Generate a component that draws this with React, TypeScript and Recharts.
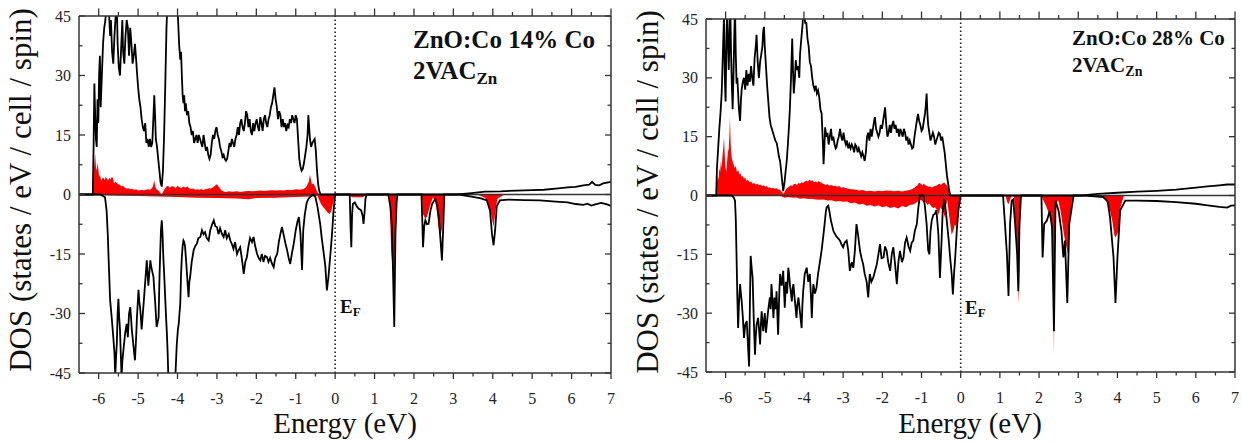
import React from "react";
import { ComposedChart, Line, Area, XAxis, YAxis, ReferenceLine } from "recharts";

type Pt = [number, number];

const FONT = "Liberation Serif, DejaVu Serif, serif";
const RED = "#ff0000";
const FRAME = "#333";

const energyTicks = [
  -6, -5.5, -5, -4.5, -4, -3.5, -3, -2.5, -2, -1.5, -1, -0.5, 0, 0.5, 1, 1.5, 2, 2.5, 3,
  3.5, 4, 4.5, 5, 5.5, 6, 6.5, 7,
];
const dosTicks = [-45, -37.5, -30, -22.5, -15, -7.5, 0, 7.5, 15, 22.5, 30, 37.5, 45];

// ---- ZnO:Co 14% Co ----
const totalUp14: Pt[] = [
  [-6.5, 0], [-6.15, 0], [-6.13, 12], [-6.11, 28], [-6.09, 20], [-6.07, 14], [-6.05, 12], [-6.03, 24],
  [-6.01, 18], [-5.99, 30], [-5.97, 35], [-5.95, 22], [-5.92, 30], [-5.89, 38], [-5.86, 42], [-5.83, 44],
  [-5.8, 48], [-5.77, 50], [-5.74, 46], [-5.71, 40], [-5.69, 44], [-5.66, 36], [-5.63, 33], [-5.6, 40],
  [-5.57, 45], [-5.54, 48], [-5.52, 38], [-5.49, 32], [-5.46, 30], [-5.43, 37], [-5.4, 44], [-5.38, 36],
  [-5.35, 33], [-5.32, 40], [-5.29, 44], [-5.26, 42], [-5.23, 35], [-5.2, 42], [-5.17, 38], [-5.14, 33],
  [-5.11, 35], [-5.08, 38], [-5.05, 34], [-5.03, 31], [-5.0, 27], [-4.97, 24], [-4.94, 22], [-4.91, 19],
  [-4.88, 17], [-4.85, 16], [-4.82, 18], [-4.79, 13], [-4.76, 14], [-4.73, 12], [-4.7, 14], [-4.67, 12],
  [-4.64, 13], [-4.61, 20], [-4.59, 25], [-4.57, 20], [-4.55, 14], [-4.52, 12], [-4.49, 9], [-4.46, 6],
  [-4.43, 3], [-4.4, 2], [-4.37, 6], [-4.34, 15], [-4.31, 28], [-4.28, 42], [-4.25, 50], [-4.2, 52],
  [-4.1, 52], [-4.03, 50], [-3.99, 45], [-3.96, 38], [-3.93, 34], [-3.91, 36], [-3.89, 30], [-3.87, 25],
  [-3.85, 23], [-3.83, 25], [-3.81, 21], [-3.79, 23], [-3.76, 20], [-3.73, 21], [-3.7, 18], [-3.67, 17],
  [-3.64, 15], [-3.61, 16], [-3.58, 13], [-3.55, 14], [-3.52, 15], [-3.49, 13], [-3.46, 15], [-3.43, 14],
  [-3.4, 13], [-3.37, 12], [-3.34, 15], [-3.31, 13], [-3.28, 11], [-3.25, 12], [-3.22, 10], [-3.19, 9],
  [-3.16, 10], [-3.13, 13], [-3.1, 15], [-3.07, 14], [-3.04, 16], [-3.01, 17], [-2.98, 15], [-2.95, 14],
  [-2.92, 12], [-2.89, 11], [-2.86, 9.5], [-2.83, 10], [-2.8, 9], [-2.77, 8.5], [-2.74, 9], [-2.71, 11],
  [-2.68, 13], [-2.65, 12], [-2.62, 14], [-2.59, 13], [-2.56, 12], [-2.53, 14], [-2.5, 15], [-2.47, 17],
  [-2.44, 15], [-2.41, 18], [-2.38, 19], [-2.35, 17], [-2.32, 16], [-2.29, 18], [-2.26, 21], [-2.23, 20],
  [-2.2, 17], [-2.17, 19], [-2.14, 16], [-2.11, 15], [-2.08, 18], [-2.05, 16], [-2.02, 18], [-1.99, 19],
  [-1.96, 17], [-1.93, 16], [-1.9, 19.5], [-1.87, 18], [-1.84, 16], [-1.81, 19], [-1.78, 20], [-1.75, 18],
  [-1.72, 17], [-1.69, 19], [-1.66, 20], [-1.63, 22], [-1.6, 23], [-1.57, 25], [-1.54, 27], [-1.51, 24],
  [-1.48, 22], [-1.45, 19], [-1.42, 21], [-1.39, 20], [-1.36, 17], [-1.33, 19], [-1.3, 17], [-1.27, 18],
  [-1.24, 16], [-1.21, 17.5], [-1.18, 17], [-1.15, 19], [-1.12, 18], [-1.09, 20], [-1.06, 19],
  [-1.03, 18], [-1.0, 20], [-0.97, 19], [-0.94, 14], [-0.91, 9], [-0.88, 7], [-0.85, 6], [-0.82, 6.5],
  [-0.79, 8], [-0.76, 10], [-0.73, 12], [-0.7, 15], [-0.68, 20], [-0.66, 17], [-0.64, 14], [-0.61, 12],
  [-0.58, 13], [-0.55, 13.5], [-0.52, 14], [-0.49, 11], [-0.46, 6], [-0.43, 2.5], [-0.4, 0.8],
  [-0.37, 0], [3.1, 0], [3.4, 0.3], [3.8, 0.7], [4.2, 0.8], [4.6, 1.0], [5.0, 1.1], [5.3, 1.2],
  [5.6, 1.5], [5.9, 1.8], [6.1, 1.9], [6.3, 2.3], [6.45, 2.5], [6.52, 3.2], [6.6, 2.4], [6.7, 2.3],
  [6.8, 2.8], [6.9, 3.0], [7.0, 3.2],
];

const totalDown14: Pt[] = [
  [-6.5, 0], [-5.97, 0], [-5.9, -0.3], [-5.84, -0.7], [-5.8, -4], [-5.77, -10], [-5.75, -15.8],
  [-5.71, -26.7], [-5.67, -31], [-5.63, -36], [-5.6, -40], [-5.58, -46], [-5.56, -41], [-5.54, -37.6],
  [-5.52, -30], [-5.5, -26.3], [-5.48, -31], [-5.46, -34], [-5.44, -40], [-5.42, -46], [-5.4, -42],
  [-5.37, -39], [-5.33, -35], [-5.29, -32.6], [-5.26, -36], [-5.23, -30], [-5.2, -28.4], [-5.18, -31],
  [-5.16, -34], [-5.12, -38], [-5.08, -41.8], [-5.05, -36], [-5.03, -31], [-4.99, -24], [-4.97, -27],
  [-4.95, -28.4], [-4.93, -31], [-4.91, -34], [-4.88, -30], [-4.86, -27.5], [-4.82, -22], [-4.78, -16.6],
  [-4.76, -20], [-4.74, -23], [-4.71, -19], [-4.69, -16.6], [-4.67, -18], [-4.65, -19], [-4.61, -20.8],
  [-4.59, -24], [-4.57, -26.7], [-4.55, -30], [-4.53, -33.4], [-4.5, -32], [-4.48, -31], [-4.46, -22],
  [-4.44, -15], [-4.42, -9], [-4.4, -6.5], [-4.38, -10], [-4.36, -15.8], [-4.33, -22], [-4.31, -26.7],
  [-4.29, -31], [-4.27, -35], [-4.25, -40], [-4.23, -47], [-4.06, -47], [-4.02, -38], [-3.99, -34],
  [-3.97, -32.6], [-3.95, -30], [-3.93, -27.5], [-3.91, -20], [-3.89, -15.8], [-3.87, -13],
  [-3.85, -11.6], [-3.83, -12], [-3.81, -13], [-3.78, -17], [-3.76, -20], [-3.74, -23], [-3.72, -25.9],
  [-3.7, -22], [-3.68, -20.8], [-3.64, -17], [-3.59, -14], [-3.55, -13], [-3.51, -12.4], [-3.47, -11],
  [-3.42, -10.7], [-3.38, -9], [-3.34, -10], [-3.3, -9.5], [-3.26, -11], [-3.21, -11.6], [-3.17, -9],
  [-3.12, -7.5], [-3.08, -6.5], [-3.04, -8], [-3.0, -8.2], [-2.96, -10], [-2.92, -8.5], [-2.87, -10],
  [-2.83, -10.7], [-2.79, -9], [-2.75, -11], [-2.7, -10], [-2.66, -11.6], [-2.62, -12.5], [-2.58, -13.7],
  [-2.54, -12], [-2.49, -15], [-2.45, -14], [-2.41, -13.3], [-2.37, -16], [-2.32, -20], [-2.28, -17],
  [-2.24, -15.8], [-2.2, -13], [-2.16, -11], [-2.11, -12], [-2.07, -10.7], [-2.03, -13], [-1.98, -15],
  [-1.94, -16], [-1.9, -16.6], [-1.86, -15], [-1.82, -17], [-1.78, -15.5], [-1.73, -15.8], [-1.69, -17],
  [-1.65, -16], [-1.6, -17.5], [-1.56, -18.3], [-1.52, -16], [-1.47, -15], [-1.43, -12], [-1.39, -10],
  [-1.35, -8.2], [-1.31, -10], [-1.26, -12.4], [-1.22, -14], [-1.18, -16], [-1.14, -17.5], [-1.1, -15],
  [-1.05, -12.4], [-1.0, -9], [-0.96, -7], [-0.92, -5.7], [-0.88, -10], [-0.84, -19], [-0.81, -9],
  [-0.77, -5], [-0.72, -2], [-0.67, -1], [-0.62, -0.5], [-0.56, 0], [-0.5, -0.7], [-0.45, -3],
  [-0.38, -7.4], [-0.34, -11], [-0.3, -14], [-0.25, -18], [-0.21, -24.2], [-0.17, -20.8], [-0.12, -15],
  [-0.08, -10], [-0.04, -4], [0, 0], [0.37, 0], [0.39, -8], [0.41, -13.3], [0.43, -5], [0.45, -2.4],
  [0.5, -2.0], [0.55, -3.0], [0.6, -3.6], [0.66, -4], [0.7, -5.5], [0.72, -7.4], [0.75, -4], [0.77, -1],
  [0.8, 0], [1.35, 0], [1.4, -3], [1.44, -8], [1.47, -20], [1.5, -33.4], [1.53, -10], [1.56, -2],
  [1.58, 0], [2.19, 0], [2.21, -6], [2.23, -13.3], [2.26, -8], [2.29, -6.5], [2.33, -7.5], [2.37, -7.4],
  [2.42, -4], [2.46, -2.4], [2.54, -1.1], [2.59, -3], [2.63, -5.7], [2.67, -11], [2.71, -16.6],
  [2.74, -9], [2.77, 0], [3.15, 0], [3.3, -0.3], [3.5, -0.6], [3.7, -1.0], [3.85, -1.5], [3.93, -4],
  [3.98, -10], [4.02, -12.8], [4.06, -9], [4.1, -3], [4.18, -1.5], [4.4, -1.3], [4.8, -1.4], [5.2, -1.5],
  [5.6, -1.8], [5.9, -2.0], [6.1, -2.4], [6.3, -2.6], [6.4, -2.3], [6.5, -2.8], [6.6, -2.5], [6.75, -2.1],
  [6.9, -2.5], [7.0, -2.9],
];

const coUp14: Pt[] = [
  [-6.5, 0], [-6.15, 0], [-6.13, 5], [-6.11, 8], [-6.09, 10.3], [-6.07, 7], [-6.05, 6], [-6.03, 8],
  [-6.01, 6.5], [-5.99, 4.5], [-5.97, 5], [-5.94, 3.5], [-5.91, 4], [-5.88, 4.3], [-5.85, 3.6],
  [-5.82, 4.5], [-5.79, 4], [-5.76, 3.5], [-5.73, 4.2], [-5.7, 3.8], [-5.67, 4.4], [-5.64, 4.2],
  [-5.61, 2.8], [-5.58, 3.2], [-5.55, 3], [-5.51, 2.6], [-5.47, 2.5], [-5.43, 2.1], [-5.39, 2.2],
  [-5.35, 1.8], [-5.3, 1.5], [-5.25, 1.6], [-5.2, 1.3], [-5.15, 1.4], [-5.1, 1.2], [-5.05, 1.3],
  [-5.0, 1.0], [-4.95, 1.1], [-4.9, 1.2], [-4.85, 1.0], [-4.8, 1.2], [-4.75, 1.3], [-4.7, 1.2],
  [-4.65, 1.5], [-4.62, 2.2], [-4.59, 3.6], [-4.56, 1.8], [-4.52, 1.2], [-4.48, 1.0], [-4.44, 0.4],
  [-4.4, 0], [-4.36, 0.8], [-4.32, 1.5], [-4.28, 2.0], [-4.24, 2.2], [-4.2, 1.7], [-4.15, 2.1],
  [-4.1, 2.0], [-4.05, 1.6], [-4.0, 2.2], [-3.95, 1.8], [-3.9, 1.6], [-3.85, 2.0], [-3.8, 1.7],
  [-3.75, 2.0], [-3.7, 1.5], [-3.65, 1.4], [-3.6, 1.5], [-3.55, 1.2], [-3.5, 1.3], [-3.45, 1.2],
  [-3.4, 1.4], [-3.35, 1.1], [-3.3, 1.3], [-3.25, 1.4], [-3.2, 1.6], [-3.15, 1.5], [-3.1, 1.8],
  [-3.05, 2.2], [-3.0, 2.6], [-2.96, 2.0], [-2.92, 1.5], [-2.88, 1.0], [-2.84, 0.8], [-2.8, 0.6],
  [-2.75, 0.6], [-2.7, 0.8], [-2.6, 0.7], [-2.5, 0.8], [-2.4, 0.6], [-2.3, 0.8], [-2.2, 0.9],
  [-2.1, 0.8], [-2.0, 0.9], [-1.9, 1.0], [-1.8, 0.9], [-1.7, 1.0], [-1.6, 1.1], [-1.5, 1.0],
  [-1.4, 1.1], [-1.3, 1.0], [-1.2, 1.2], [-1.1, 1.1], [-1.0, 1.3], [-0.9, 1.2], [-0.8, 1.4],
  [-0.74, 1.8], [-0.7, 2.5], [-0.67, 3.2], [-0.64, 5.0], [-0.62, 4.0], [-0.59, 2.6], [-0.55, 2.8],
  [-0.51, 2.0], [-0.47, 1.0], [-0.43, 0.3], [-0.4, 0], [7, 0],
];

const coDown14: Pt[] = [
  [-6.5, 0], [-6.14, 0], [-6.0, -0.2], [-5.5, -0.3], [-5.0, -0.4], [-4.5, -0.5], [-4.0, -0.6],
  [-3.5, -0.8], [-3.0, -0.9], [-2.5, -1.0], [-2.2, -1.2], [-2.0, -0.9], [-1.5, -0.8], [-1.0, -0.6],
  [-0.6, -0.5], [-0.45, -0.3], [-0.4, -1.5], [-0.35, -2.5], [-0.3, -3.2], [-0.25, -3.8], [-0.2, -4.5],
  [-0.14, -4.9], [-0.1, -4.2], [-0.05, -2.0], [0, 0], [0.38, 0], [0.42, -0.7], [0.7, -0.7], [0.8, 0],
  [1.38, 0], [1.42, -14], [1.47, -20], [1.5, -22], [1.53, -8], [1.55, 0], [2.2, 0], [2.23, -5],
  [2.28, -6], [2.33, -5.7], [2.4, -3], [2.48, -0.8], [2.55, -1.5], [2.62, -8], [2.67, -10.7],
  [2.72, -8], [2.76, 0], [3.6, 0], [3.8, -0.8], [3.9, -2.5], [3.96, -5], [4.02, -8.2], [4.07, -4],
  [4.12, -1], [4.3, 0], [7, 0],
];

// ---- ZnO:Co 28% Co ----
const totalUp28: Pt[] = [
  [-6.5, 0], [-6.24, 0], [-6.22, 7], [-6.19, 12], [-6.16, 17], [-6.13, 21], [-6.1, 26], [-6.07, 36],
  [-6.04, 46], [-6.02, 30], [-6.0, 24], [-5.98, 38], [-5.96, 48], [-5.94, 40], [-5.92, 32], [-5.9, 40],
  [-5.88, 48], [-5.86, 36], [-5.84, 28], [-5.82, 22], [-5.8, 30], [-5.78, 40], [-5.76, 48], [-5.74, 36],
  [-5.72, 28.5], [-5.7, 30], [-5.68, 26], [-5.66, 22], [-5.63, 19], [-5.61, 24], [-5.59, 27],
  [-5.56, 29], [-5.53, 30], [-5.5, 27], [-5.47, 32], [-5.44, 28], [-5.41, 31], [-5.38, 29], [-5.35, 33],
  [-5.32, 30], [-5.29, 28], [-5.26, 35], [-5.23, 38], [-5.21, 41], [-5.18, 34], [-5.15, 30], [-5.12, 34],
  [-5.09, 36], [-5.06, 38], [-5.04, 42], [-5.02, 43], [-5.0, 38], [-4.97, 33], [-4.94, 28], [-4.91, 24],
  [-4.88, 20], [-4.85, 18], [-4.82, 17], [-4.79, 16], [-4.76, 15], [-4.73, 14], [-4.7, 13.5],
  [-4.67, 12], [-4.64, 10], [-4.61, 8.8], [-4.58, 6], [-4.55, 3], [-4.53, 1.1], [-4.5, 3], [-4.47, 6],
  [-4.44, 8.8], [-4.41, 13], [-4.38, 18], [-4.36, 22], [-4.33, 30], [-4.3, 40], [-4.28, 32], [-4.26, 26],
  [-4.23, 30], [-4.21, 34.5], [-4.18, 32], [-4.15, 33], [-4.12, 30], [-4.1, 36], [-4.07, 39.7],
  [-4.04, 43], [-4.02, 46], [-4.0, 47], [-3.97, 44], [-3.94, 44], [-3.91, 40], [-3.88, 38], [-3.85, 34],
  [-3.82, 33], [-3.79, 30], [-3.76, 28], [-3.73, 27], [-3.7, 28], [-3.67, 26], [-3.64, 26.8], [-3.61, 25],
  [-3.58, 22], [-3.55, 21], [-3.52, 14], [-3.5, 8], [-3.48, 12], [-3.46, 17.4], [-3.43, 15], [-3.4, 16],
  [-3.37, 13], [-3.34, 15], [-3.31, 17], [-3.28, 14], [-3.25, 15], [-3.22, 13], [-3.19, 12],
  [-3.17, 12.3], [-3.14, 14], [-3.11, 15], [-3.08, 17], [-3.05, 15], [-3.02, 14], [-2.99, 16],
  [-2.96, 14], [-2.93, 13], [-2.9, 14], [-2.87, 12], [-2.84, 13], [-2.81, 12], [-2.78, 13], [-2.75, 12.3],
  [-2.72, 11], [-2.69, 13], [-2.66, 12.5], [-2.63, 11], [-2.6, 12], [-2.57, 11], [-2.54, 10], [-2.51, 11],
  [-2.48, 10], [-2.45, 8.8], [-2.42, 11], [-2.39, 15], [-2.36, 16], [-2.33, 14], [-2.3, 17], [-2.27, 15],
  [-2.24, 17], [-2.21, 19], [-2.19, 20], [-2.16, 17], [-2.13, 16], [-2.1, 15], [-2.07, 16], [-2.04, 18],
  [-2.01, 17], [-1.98, 19], [-1.95, 21], [-1.93, 22.5], [-1.9, 18], [-1.87, 15], [-1.84, 16], [-1.81, 18],
  [-1.78, 16], [-1.75, 18], [-1.72, 19], [-1.69, 17], [-1.66, 18], [-1.63, 16], [-1.6, 17], [-1.57, 15],
  [-1.54, 17], [-1.51, 16], [-1.48, 15], [-1.45, 17], [-1.42, 16], [-1.39, 14], [-1.36, 15], [-1.33, 13],
  [-1.3, 14], [-1.27, 13], [-1.24, 12], [-1.21, 12.3], [-1.18, 15], [-1.15, 17], [-1.12, 19],
  [-1.09, 20.8], [-1.06, 19], [-1.03, 18], [-1.0, 16.5], [-0.97, 17], [-0.94, 19], [-0.91, 21],
  [-0.89, 23], [-0.87, 26], [-0.85, 21], [-0.83, 18], [-0.8, 16], [-0.77, 14], [-0.74, 15], [-0.71, 16],
  [-0.68, 15], [-0.65, 13], [-0.62, 14], [-0.59, 15], [-0.56, 16], [-0.53, 15.7], [-0.5, 14],
  [-0.47, 15], [-0.44, 13], [-0.41, 11], [-0.38, 8], [-0.35, 5], [-0.32, 3], [-0.29, 1], [-0.26, 0],
  [3.1, 0], [3.5, 0.4], [4.0, 0.7], [4.5, 1.0], [5.0, 1.2], [5.5, 1.5], [6.0, 2.0], [6.3, 2.3],
  [6.6, 2.6], [6.8, 2.8], [7.0, 2.8],
];

const totalDown28: Pt[] = [
  [-6.5, 0], [-5.85, 0], [-5.79, -0.5], [-5.76, -1.3], [-5.74, -6], [-5.72, -15.8], [-5.7, -26],
  [-5.68, -33.8], [-5.66, -28], [-5.63, -22.6], [-5.61, -25], [-5.59, -26.9], [-5.56, -31],
  [-5.53, -36.3], [-5.5, -33], [-5.46, -32], [-5.43, -38], [-5.4, -43.6], [-5.38, -28], [-5.36, -15.4],
  [-5.33, -19], [-5.31, -21], [-5.28, -32], [-5.25, -40.6], [-5.23, -36], [-5.21, -33], [-5.17, -31.2],
  [-5.14, -35], [-5.12, -38], [-5.1, -33], [-5.08, -29.5], [-5.06, -32], [-5.04, -34.6], [-5.0, -30],
  [-4.97, -35], [-4.95, -33], [-4.91, -29], [-4.87, -26], [-4.85, -29], [-4.83, -22.6], [-4.8, -27],
  [-4.78, -31.2], [-4.75, -26], [-4.72, -29], [-4.7, -24.4], [-4.68, -30], [-4.66, -35.5], [-4.63, -25],
  [-4.61, -20], [-4.57, -23], [-4.53, -19.2], [-4.51, -24], [-4.49, -28.6], [-4.46, -22], [-4.43, -25],
  [-4.4, -18.4], [-4.38, -20], [-4.36, -22.6], [-4.33, -25], [-4.31, -27], [-4.29, -24], [-4.27, -22.6],
  [-4.23, -27], [-4.19, -31.2], [-4.17, -28], [-4.14, -26], [-4.1, -30], [-4.06, -33.8], [-4.04, -28],
  [-4.02, -24.4], [-3.98, -20], [-3.93, -18.4], [-3.89, -22], [-3.85, -20], [-3.82, -26], [-3.8, -31.2],
  [-3.78, -26], [-3.76, -22.6], [-3.72, -25], [-3.68, -23.5], [-3.64, -20], [-3.59, -16.7], [-3.55, -14],
  [-3.51, -10.7], [-3.47, -7], [-3.44, -4], [-3.42, -3], [-3.38, -2.6], [-3.35, -4], [-3.32, -6],
  [-3.29, -7.3], [-3.25, -9], [-3.21, -9.8], [-3.17, -10.5], [-3.12, -11], [-3.08, -11.5], [-3.04, -12.5],
  [-3.0, -13.2], [-2.96, -12], [-2.91, -11.5], [-2.87, -14], [-2.83, -19.2], [-2.78, -17], [-2.74, -18.4],
  [-2.7, -14], [-2.66, -7.3], [-2.62, -10], [-2.57, -14.1], [-2.53, -16], [-2.49, -17.5], [-2.45, -20],
  [-2.4, -22], [-2.36, -26], [-2.32, -20], [-2.28, -22], [-2.23, -20.9], [-2.18, -19], [-2.14, -17.5],
  [-2.1, -15], [-2.06, -12.4], [-2.02, -16], [-1.97, -15.8], [-1.93, -13], [-1.89, -14.1], [-1.85, -17],
  [-1.8, -19.2], [-1.76, -15], [-1.72, -13.2], [-1.68, -17], [-1.63, -22.6], [-1.59, -17], [-1.55, -14.1],
  [-1.5, -17], [-1.46, -15.8], [-1.42, -12], [-1.38, -10.7], [-1.33, -13], [-1.29, -14.1], [-1.25, -12],
  [-1.21, -11.5], [-1.17, -9], [-1.12, -7.3], [-1.08, -3], [-1.04, 0], [-0.95, 0], [-0.91, -3],
  [-0.87, -7.3], [-0.83, -14], [-0.8, -15], [-0.77, -9], [-0.74, -6.4], [-0.7, -5], [-0.66, -4.7],
  [-0.62, -3.8], [-0.57, -9.8], [-0.53, -21], [-0.49, -12], [-0.46, -4], [-0.42, -0.8], [-0.38, -4],
  [-0.34, -8], [-0.3, -12], [-0.27, -15.8], [-0.23, -20], [-0.2, -25.2], [-0.17, -20], [-0.14, -15.8],
  [-0.1, -9], [-0.06, -3.8], [0, 0], [1.08, 0], [1.13, -7.3], [1.18, -15], [1.22, -25.6], [1.26, -7.3],
  [1.3, -1.3], [1.34, -1.0], [1.39, -7.3], [1.44, -15], [1.47, -24.4], [1.5, -7.3], [1.54, 0],
  [2.06, 0], [2.09, -15.8], [2.13, -7.3], [2.2, -6.4], [2.27, -4], [2.33, -8], [2.38, -34.6],
  [2.42, -1.3], [2.5, -4], [2.57, -9], [2.62, -15.8], [2.66, -11.5], [2.72, -27.4], [2.77, -7.3],
  [2.88, 0], [3.15, 0], [3.5, -0.3], [3.64, -0.4], [3.75, -1.5], [3.81, -5.5], [3.9, -15.8],
  [3.95, -27.4], [4.0, -15.8], [4.07, -3.8], [4.2, -1.3], [4.5, -1.3], [5.0, -1.4], [5.5, -1.7],
  [6.0, -2.1], [6.3, -2.5], [6.6, -2.9], [6.8, -3.1], [6.9, -2.6], [7.0, -2.5],
];

const coUp28: Pt[] = [
  [-6.5, 0], [-6.24, 0], [-6.22, 3], [-6.2, 5], [-6.18, 4], [-6.16, 7], [-6.14, 6], [-6.12, 8.8],
  [-6.1, 7], [-6.08, 10], [-6.06, 12], [-6.04, 14.8], [-6.02, 10], [-6.0, 7], [-5.98, 6], [-5.96, 9],
  [-5.94, 11], [-5.92, 12], [-5.9, 16], [-5.89, 20], [-5.87, 13], [-5.85, 10], [-5.83, 9], [-5.8, 8],
  [-5.77, 7], [-5.74, 7.5], [-5.71, 6], [-5.68, 6.5], [-5.65, 5.4], [-5.62, 5.6], [-5.59, 4.8],
  [-5.56, 5], [-5.53, 4.3], [-5.5, 4.6], [-5.47, 3.7], [-5.43, 4], [-5.39, 3.4], [-5.35, 3.6],
  [-5.31, 3], [-5.27, 3.2], [-5.23, 2.8], [-5.19, 3], [-5.15, 2.6], [-5.11, 2.8], [-5.07, 2.4],
  [-5.03, 2.6], [-4.99, 2.2], [-4.95, 2.4], [-4.91, 2], [-4.87, 2.1], [-4.83, 1.8], [-4.79, 2],
  [-4.75, 1.7], [-4.71, 1.9], [-4.67, 1.6], [-4.63, 1.5], [-4.59, 1.2], [-4.55, 0.7], [-4.52, 0.4],
  [-4.49, 1.0], [-4.46, 1.6], [-4.42, 2.0], [-4.38, 2.2], [-4.34, 2.6], [-4.3, 2.4], [-4.26, 2.9],
  [-4.22, 3.0], [-4.18, 2.7], [-4.14, 3.2], [-4.1, 3.0], [-4.06, 3.4], [-4.02, 3.2], [-3.98, 3.6],
  [-3.94, 3.8], [-3.9, 3.5], [-3.86, 4.1], [-3.82, 3.7], [-3.78, 3.9], [-3.74, 3.4], [-3.7, 3.6],
  [-3.66, 3.3], [-3.62, 3.7], [-3.58, 3.4], [-3.54, 3.1], [-3.5, 3.0], [-3.45, 2.7], [-3.4, 2.9],
  [-3.35, 2.5], [-3.3, 2.7], [-3.25, 2.4], [-3.2, 2.5], [-3.15, 2.2], [-3.1, 2.4], [-3.05, 2.0],
  [-3.0, 2.1], [-2.9, 1.8], [-2.8, 1.6], [-2.7, 1.5], [-2.6, 1.3], [-2.5, 1.4], [-2.4, 1.1], [-2.3, 1.2],
  [-2.2, 1.0], [-2.1, 1.2], [-2.0, 1.1], [-1.9, 1.3], [-1.8, 1.2], [-1.7, 1.1], [-1.6, 1.2], [-1.5, 1.0],
  [-1.4, 1.2], [-1.3, 1.4], [-1.22, 1.7], [-1.15, 2.2], [-1.1, 2.6], [-1.06, 3.3], [-1.02, 3.0],
  [-0.98, 2.6], [-0.94, 3.0], [-0.9, 2.6], [-0.86, 2.4], [-0.82, 2.2], [-0.78, 2.3], [-0.74, 2.0],
  [-0.7, 2.2], [-0.66, 2.4], [-0.62, 2.5], [-0.58, 2.8], [-0.54, 3.0], [-0.5, 2.7], [-0.46, 3.1],
  [-0.42, 3.3], [-0.38, 2.8], [-0.34, 2.5], [-0.31, 1.6], [-0.28, 0.6], [-0.26, 0], [7, 0],
];

const coDown28: Pt[] = [
  [-6.5, 0], [-4.6, 0], [-4.55, -0.3], [-4.5, -0.6], [-4.4, -0.4], [-4.3, -0.6], [-4.2, -0.5],
  [-4.1, -0.8], [-4.0, -0.7], [-3.9, -0.9], [-3.8, -0.8], [-3.7, -1.0], [-3.6, -1.1], [-3.5, -1.0],
  [-3.4, -1.3], [-3.3, -1.2], [-3.2, -1.5], [-3.1, -1.4], [-3.0, -1.6], [-2.9, -1.5], [-2.8, -2.0],
  [-2.7, -1.8], [-2.6, -2.3], [-2.5, -2.1], [-2.4, -2.6], [-2.3, -2.4], [-2.2, -2.8], [-2.1, -2.5],
  [-2.0, -3.0], [-1.9, -2.7], [-1.8, -3.2], [-1.7, -2.9], [-1.6, -3.3], [-1.5, -2.7], [-1.4, -3.0],
  [-1.3, -2.4], [-1.2, -2.2], [-1.1, -1.6], [-1.05, -1.0], [-1.0, -1.2], [-0.95, -1.8], [-0.9, -1.6],
  [-0.85, -2.4], [-0.8, -2.0], [-0.75, -2.8], [-0.7, -3.2], [-0.65, -3.0], [-0.6, -3.8], [-0.56, -4.9],
  [-0.52, -3.0], [-0.48, -3.6], [-0.44, -4.4], [-0.4, -5.7], [-0.37, -2.5], [-0.34, -1.0], [-0.31, -4.0],
  [-0.27, -7.0], [-0.23, -10], [-0.19, -9], [-0.15, -7.4], [-0.11, -8], [-0.07, -5], [-0.03, -2], [0, 0],
  [1.15, 0], [1.18, -1.5], [1.22, -2.2], [1.26, -1.0], [1.3, 0], [1.36, 0], [1.39, -6], [1.43, -11],
  [1.46, -19], [1.48, -27.8], [1.5, -20], [1.52, -4], [1.54, 0], [2.06, 0], [2.11, -1.3], [2.17, -2.5],
  [2.23, -4], [2.28, -5.5], [2.33, -7], [2.36, -22], [2.38, -40.8], [2.4, -10], [2.43, -2], [2.49, -1.3],
  [2.54, -3.5], [2.58, -6], [2.62, -9], [2.67, -12], [2.72, -14], [2.75, -15.8], [2.79, -6], [2.84, -1],
  [2.88, 0], [3.55, 0], [3.64, -0.4], [3.72, -1.5], [3.81, -3.8], [3.87, -6.5], [3.92, -10],
  [3.95, -10.7], [3.99, -10], [4.03, -9], [4.08, -3], [4.15, -0.4], [4.2, 0], [7, 0],
];

// one table per panel, keyed by energy; missing points are bridged with connectNulls
function buildTable(series: Record<string, Pt[]>) {
  const rows = new Map<number, Record<string, number>>();
  for (const [key, pts] of Object.entries(series)) {
    for (const [e, v] of pts) {
      const row = rows.get(e) ?? { e };
      row[key] = v;
      rows.set(e, row);
    }
  }
  return [...rows.values()].sort((a, b) => a.e - b.e);
}

const data14 = buildTable({ tu: totalUp14, td: totalDown14, cu: coUp14, cd: coDown14 });
const data28 = buildTable({ tu: totalUp28, td: totalDown28, cu: coUp28, cd: coDown28 });

const tickLabel = { fontSize: 16, fill: "#222", style: { fontFamily: FONT } };

function BottomTick({ x, y, payload }: any) {
  const major = Number.isInteger(payload.value);
  return (
    <g>
      <line x1={x} x2={x} y1={y} y2={y + (major ? 6 : 3.5)} stroke={FRAME} strokeWidth={1.3} />
      {major && (
        <text x={x} y={y + 31} textAnchor="middle" {...tickLabel}>
          {payload.value}
        </text>
      )}
    </g>
  );
}

function TopTick({ x, y, payload }: any) {
  const major = Number.isInteger(payload.value);
  return <line x1={x} x2={x} y1={y} y2={y - (major ? 7.5 : 4)} stroke={FRAME} strokeWidth={1.3} />;
}

function LeftTick({ x, y, payload }: any) {
  const major = payload.value % 15 === 0;
  return (
    <g>
      <line x1={x} x2={x + (major ? 6 : 3.5)} y1={y} y2={y} stroke={FRAME} strokeWidth={1.3} />
      {major && (
        <text x={x - 8} y={y + 5.5} textAnchor="end" {...tickLabel}>
          {payload.value}
        </text>
      )}
    </g>
  );
}

function RightTick({ x, y, payload }: any) {
  const major = payload.value % 15 === 0;
  return <line x1={x} x2={x - (major ? 6 : 3.5)} y1={y} y2={y} stroke={FRAME} strokeWidth={1.3} />;
}

const axisLine = { stroke: FRAME, strokeWidth: 1.5 };

function DosPanel({ data, width, margin }: { data: any[]; width: number; margin: any }) {
  return (
    <ComposedChart width={width} height={443} data={data} margin={margin}>
      <XAxis
        xAxisId="b"
        dataKey="e"
        type="number"
        domain={[-6.5, 7]}
        allowDataOverflow
        ticks={energyTicks}
        interval={0}
        tickSize={0}
        tickMargin={0}
        tickLine={false}
        tick={BottomTick}
        axisLine={axisLine}
        height={30}
      />
      <XAxis
        xAxisId="t"
        orientation="top"
        dataKey="e"
        type="number"
        domain={[-6.5, 7]}
        allowDataOverflow
        ticks={energyTicks}
        interval={0}
        tickSize={0}
        tickMargin={0}
        tickLine={false}
        tick={TopTick}
        axisLine={axisLine}
        height={10}
      />
      <YAxis
        yAxisId="l"
        type="number"
        domain={[-45, 45]}
        allowDataOverflow
        ticks={dosTicks}
        interval={0}
        tickSize={0}
        tickMargin={0}
        tickLine={false}
        tick={LeftTick}
        axisLine={axisLine}
        width={40}
      />
      <YAxis
        yAxisId="r"
        orientation="right"
        type="number"
        domain={[-45, 45]}
        allowDataOverflow
        ticks={dosTicks}
        interval={0}
        tickSize={0}
        tickMargin={0}
        tickLine={false}
        tick={RightTick}
        axisLine={axisLine}
        width={5}
      />
      <Area xAxisId="b" yAxisId="l" dataKey="cu" type="linear" baseValue={0} fill={RED} fillOpacity={1}
        stroke="none" connectNulls dot={false} activeDot={false} isAnimationActive={false} />
      <Area xAxisId="b" yAxisId="l" dataKey="cd" type="linear" baseValue={0} fill={RED} fillOpacity={1}
        stroke="none" connectNulls dot={false} activeDot={false} isAnimationActive={false} />
      <ReferenceLine xAxisId="b" yAxisId="l" y={0} stroke={FRAME} strokeWidth={1.5} />
      <ReferenceLine xAxisId="b" yAxisId="l" x={0} stroke="#222" strokeWidth={1.6} strokeDasharray="1.5 2.5" />
      <Line xAxisId="b" yAxisId="l" dataKey="tu" type="linear" stroke="#000" strokeWidth={1.8}
        connectNulls dot={false} activeDot={false} isAnimationActive={false} />
      <Line xAxisId="b" yAxisId="l" dataKey="td" type="linear" stroke="#000" strokeWidth={1.8}
        connectNulls dot={false} activeDot={false} isAnimationActive={false} />
    </ComposedChart>
  );
}

export default function App() {
  return (
    <div
      style={{
        position: "absolute", left: 0, top: 0, width: 1242, height: 443,
        background: "#fff", fontFamily: FONT,
      }}
    >
      <div style={{ position: "absolute", left: 0, top: 0 }}>
        <DosPanel data={data14} width={620} margin={{ top: 6, right: 4, bottom: 40, left: 39 }} />
      </div>
      <div style={{ position: "absolute", left: 620, top: 0 }}>
        <DosPanel data={data28} width={622} margin={{ top: 9, right: 2, bottom: 41, left: 46 }} />
      </div>
      <svg
        width={1242}
        height={443}
        style={{ position: "absolute", left: 0, top: 0, pointerEvents: "none", fontFamily: FONT }}
        fill="#111"
      >
        <text transform="translate(31,190) rotate(-90)" textAnchor="middle" fontSize={31}>
          DOS (states / eV / cell / spin)
        </text>
        <text transform="translate(658,192) rotate(-90)" textAnchor="middle" fontSize={31}>
          DOS (states / eV / cell / spin)
        </text>
        <text x={345} y={433} textAnchor="middle" fontSize={29}>Energy (eV)</text>
        <text x={970} y={433} textAnchor="middle" fontSize={29}>Energy (eV)</text>

        <text x={413} y={48} fontSize={25} fontWeight="bold">ZnO:Co 14% Co</text>
        <text x={413} y={79} fontSize={25} fontWeight="bold">
          2VAC<tspan fontSize={17} dy={5}>Zn</tspan>
        </text>
        <text x={1072} y={45} fontSize={21} fontWeight="bold">ZnO:Co 28% Co</text>
        <text x={1072} y={72} fontSize={21} fontWeight="bold">
          2VAC<tspan fontSize={14} dy={4}>Zn</tspan>
        </text>

        <text x={340} y={313} fontSize={19} fontWeight="bold">
          E<tspan fontSize={13} dy={3}>F</tspan>
        </text>
        <text x={965} y={314} fontSize={19} fontWeight="bold">
          E<tspan fontSize={13} dy={3}>F</tspan>
        </text>
      </svg>
    </div>
  );
}
